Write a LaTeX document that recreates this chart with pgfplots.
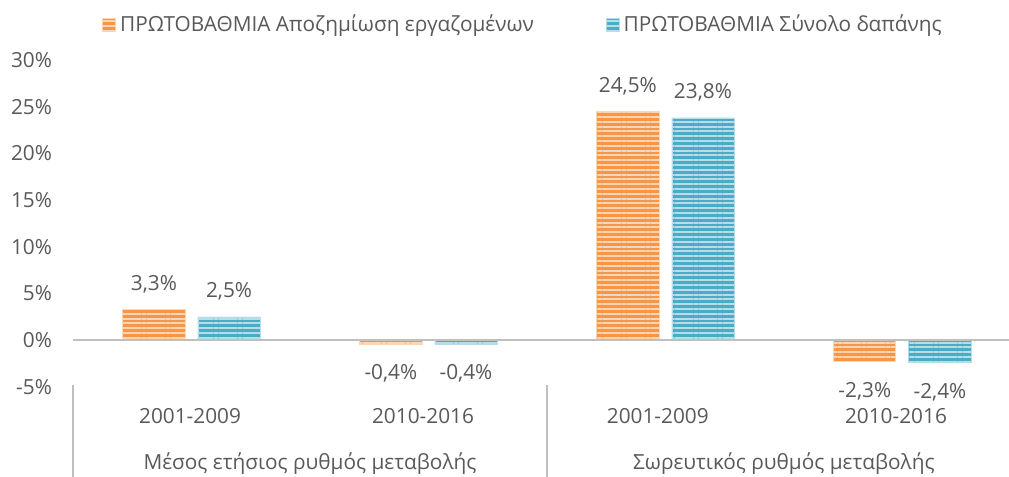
\documentclass[border=0pt]{standalone}
\usepackage{fontspec}
\setmainfont{Open Sans}
\usepackage{pgfplots}
\pgfplotsset{compat=1.18}
\usetikzlibrary{patterns.meta}
\definecolor{org}{HTML}{F79646}
\definecolor{orgl}{HTML}{FCD5B4}
\definecolor{blu}{HTML}{4BACC6}
\definecolor{blul}{HTML}{B7DEE8}
\definecolor{txt}{HTML}{595959}
\definecolor{axg}{HTML}{BFBFBF}
\begin{document}
\begin{tikzpicture}[font=\fontsize{10.4}{12.5}\selectfont, text=txt]
\useasboundingbox (-36.5pt,-45pt) rectangle (468pt,193.5pt);
\begin{axis}[
  at={(0,0)}, anchor=south west,
  scale only axis, width=468pt, height=163.5pt,
  xmin=-0.5, xmax=3.45, ymin=-5, ymax=30,
  ybar=6.5pt, bar width=0.262,
  axis line style={draw=none},
  major tick length=0pt,
  xtick={-0.006,0.977,1.968,2.973},
  xticklabels={2001-2009,2010-2016,2001-2009,2010-2016},
  xticklabel style={anchor=base, yshift=-18.5pt},
  ytick={-5,0,5,10,15,20,25,30},
  yticklabels={-5\%,0\%,5\%,10\%,15\%,20\%,25\%,30\%},
  yticklabel style={xshift=-7pt},
  visualization depends on={rawy \as \rawy},
  nodes near coords={\pgfmathprintnumber[fixed,fixed zerofill,precision=1,use comma,assume math mode=true]{\pgfplotspointmeta}\%},
  every node near coord/.append style={inner ysep=7pt, text=txt, font=\fontsize{10.4}{12.5}\selectfont, yshift={(\rawy<0)*(-3pt)+(\rawy>0)*(1pt)}},
  legend style={at={(axis description cs:0.031,1.107)}, anchor=west, draw=none, fill=none,
    legend columns=2, /tikz/every even column/.append style={column sep=34pt},
    font=\fontsize{10.4}{12.5}\selectfont, text=txt, inner sep=0pt},
  legend image code/.code={\draw[#1] (0pt,-3.25pt) rectangle (6.5pt,3.25pt);},
  clip=false,
]
\addplot[fill=org, draw=orgl, line width=0.4pt,
  postaction={pattern={Lines[angle=0,distance=2.4pt,line width=1pt]}, pattern color=orgl}]
  coordinates {(0,3.3) (1,-0.4) (2,24.5) (3,-2.3)};
\addlegendentry{ΠΡΩΤΟΒΑΘΜΙΑ Αποζημίωση εργαζομένων}
\addplot[fill=blu, draw=blul, line width=0.4pt,
  postaction={pattern={Lines[angle=0,distance=2.4pt,line width=1pt]}, pattern color=blul}]
  coordinates {(0,2.5) (1,-0.4) (2,23.8) (3,-2.4)};
\addlegendentry{ΠΡΩΤΟΒΑΘΜΙΑ Σύνολο δαπάνης}
\draw[axg, line width=1.2pt] (axis cs:-0.5,0) -- (axis cs:3.45,0);
\draw[axg, line width=1.3pt] ([yshift=1pt]axis cs:-0.5,-5) -- ([yshift=-50pt]axis cs:-0.5,-5);
\draw[axg, line width=1.3pt] ([yshift=1pt]axis cs:1.5,-5) -- ([yshift=-50pt]axis cs:1.5,-5);
\node[anchor=base] at ([yshift=-41.5pt]axis cs:0.5,-5) {Μέσος ετήσιος ρυθμός μεταβολής};
\node[anchor=base] at ([yshift=-41.5pt]axis cs:2.5,-5) {Σωρευτικός ρυθμός μεταβολής};
\end{axis}
\end{tikzpicture}
\end{document}
